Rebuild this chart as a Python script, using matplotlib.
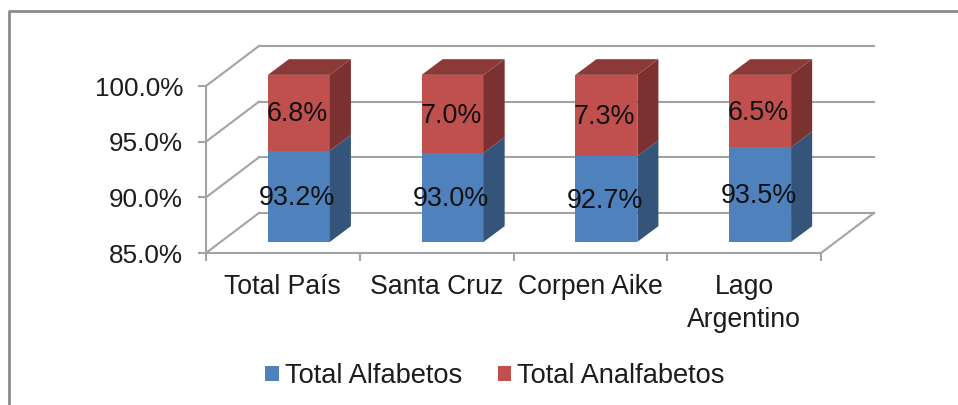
import numpy as np
import matplotlib
matplotlib.use("Agg")
import matplotlib.pyplot as plt
from matplotlib.patches import Polygon

plt.rcParams['font.family'] = ['Liberation Sans', 'DejaVu Sans']

categories = ["Total País", "Santa Cruz", "Corpen Aike", "Lago\nArgentino"]
alfabetos = [93.2, 93.0, 92.7, 93.5]
analfabetos = [6.8, 7.0, 7.3, 6.5]
yticks = [85, 90, 95, 100]

GRID = "#a3a3a3"
TXT = "#1c1c1c"
BLUE, BLUE_SIDE = "#4f81bd", "#345479"
RED, RED_SIDE, RED_TOP = "#c0504d", "#7b312f", "#8c3a38"

# fake 3d depth, in data units
wall_dx, wall_dy = 0.345, 3.6
bar_dx, bar_dy = 0.104, 1.0
side_dx, side_dy = 0.137, 1.41
width = 0.403

W, H = 958, 405
fig = plt.figure(figsize=(W / 100, H / 100), dpi=100)
ax = fig.add_axes([206 / W, 1 - 253 / H, 615 / W, 167 / H])
ax.set_xlim(-0.5, 3.5)
ax.set_ylim(85, 100)
ax.patch.set_alpha(0)

#outer chart frame, only left and top are in the crop
fig.add_artist(plt.Line2D([9 / W, 9 / W, 1], [0, 1 - 11 / H, 1 - 11 / H], color="#8c8c8c", lw=2))

#floor and back wall lines
for y in yticks:
    ax.plot([-0.5, -0.5 + wall_dx], [y, y + wall_dy], color=GRID, lw=1.5, clip_on=False, zorder=1)
    ax.plot([-0.5 + wall_dx, 3.5 + wall_dx], [y + wall_dy, y + wall_dy], color=GRID, lw=1.5, clip_on=False, zorder=1)
ax.plot([3.5, 3.5 + wall_dx], [85, 85 + wall_dy], color=GRID, lw=1.5, clip_on=False, zorder=1)

x = np.arange(len(categories))
a = np.array(alfabetos)
b = np.array(analfabetos)
left = x + bar_dx

bars_a = ax.bar(left, a - 85, width, bottom=85 + bar_dy, color=BLUE, label="Total Alfabetos", clip_on=False, zorder=3)
bars_b = ax.bar(left, b, width, bottom=a + bar_dy, color=RED, label="Total Analfabetos", clip_on=False, zorder=3)

for i in range(len(x)):
    xr = left[i] + width / 2
    y0 = 85 + bar_dy
    y1 = a[i] + bar_dy
    y2 = a[i] + b[i] + bar_dy
    ax.add_patch(Polygon([(xr, y0), (xr + side_dx, y0 + side_dy), (xr + side_dx, y1 + side_dy), (xr, y1)],
                         color=BLUE_SIDE, lw=0, clip_on=False, zorder=3))
    ax.add_patch(Polygon([(xr, y1), (xr + side_dx, y1 + side_dy), (xr + side_dx, y2 + side_dy), (xr, y2)],
                         color=RED_SIDE, lw=0, clip_on=False, zorder=3))
    ax.add_patch(Polygon([(xr - width, y2), (xr, y2), (xr + side_dx, y2 + side_dy), (xr - width + side_dx, y2 + side_dy)],
                         color=RED_TOP, lw=0, clip_on=False, zorder=3))
    ax.text(left[i] - 0.01, (85 + a[i]) / 2 + bar_dy - 0.15, "%.1f%%" % a[i], ha="center", va="center",
            fontsize=19.4, color="#111111", zorder=4)
    ax.text(left[i] - 0.01, (a[i] + a[i] + b[i]) / 2 + bar_dy - 0.15, "%.1f%%" % b[i], ha="center", va="center",
            fontsize=19.4, color="#111111", zorder=4)

ax.set_yticks(yticks)
ax.set_yticklabels(["%.1f%%" % v for v in yticks], fontsize=18.8, color=TXT)
ax.set_xticks(x)
ax.set_xticklabels(categories, fontsize=19.2, color=TXT, linespacing=1.35)
ax.set_xticks(np.arange(-0.5, 4), minor=True)
ax.tick_params(axis="x", which="major", length=0, pad=15)
ax.tick_params(axis="x", which="minor", length=5.5, width=1.5, color=GRID)
ax.tick_params(axis="y", length=5.5, width=1.5, color=GRID, pad=11)

for s in ["top", "right"]:
    ax.spines[s].set_visible(False)
for s in ["left", "bottom"]:
    ax.spines[s].set_color(GRID)
    ax.spines[s].set_linewidth(1.5)

fig.legend(handles=[bars_a, bars_b], loc="center", bbox_to_anchor=(495 / W, 1 - 376 / H), ncol=2,
           frameon=False, fontsize=19.6, handlelength=0.5, handleheight=0.5, handletextpad=0.23,
           columnspacing=1.3, labelcolor=TXT)

fig.savefig("out.png", dpi=100)
